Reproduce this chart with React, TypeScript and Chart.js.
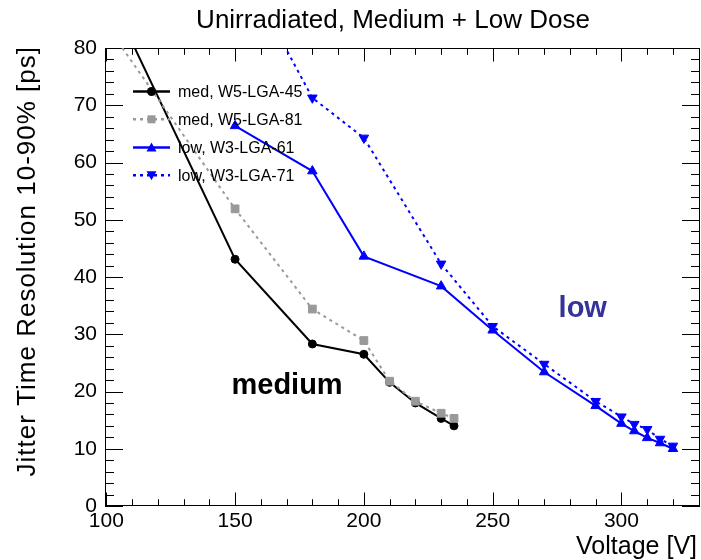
import React, { useEffect, useRef } from 'react';
import { Chart, registerables } from 'chart.js';

Chart.register(...registerables);

// ---- data ----
const TITLE = 'Unirradiated, Medium + Low Dose';
const X_TITLE = 'Voltage [V]';
const Y_TITLE = 'Jitter Time Resolution 10-90% [ps]';

const X_MIN = 99.5;
const X_MAX = 330.5;
const Y_MIN = 0;
const Y_MAX = 80;
const X_TICKS = [100, 150, 200, 250, 300];
const Y_TICKS = [0, 10, 20, 30, 40, 50, 60, 70, 80];
const X_MINOR_STEP = 10;
const Y_MINOR_STEP = 2;

const MED45_V = [110, 150, 180, 200, 210, 220, 230, 235];
const MED45_J = [81, 43.1, 28.3, 26.5, 21.6, 18.0, 15.3, 14.0];

const MED81_V = [100, 150, 180, 200, 210, 220, 230, 235];
const MED81_J = [84, 51.9, 34.4, 28.9, 21.8, 18.3, 16.2, 15.3];

const LOW61_V = [150, 180, 200, 230, 250, 270, 290, 300, 305, 310, 315, 320];
const LOW61_J = [66.4, 58.5, 43.6, 38.4, 30.7, 23.4, 17.5, 14.4, 13.1, 11.9, 11.0, 10.0];

const LOW71_V = [160, 180, 200, 230, 250, 270, 290, 300, 305, 310, 315, 320];
const LOW71_J = [88, 71.3, 64.3, 42.3, 31.4, 24.8, 18.3, 15.6, 14.3, 13.4, 11.7, 10.5];

const SERIES_LABELS = ['med, W5-LGA-45', 'med, W5-LGA-81', 'low, W3-LGA-61', 'low, W3-LGA-71'];

const NOTE_TEXT = ['medium', 'low'];
const NOTE_V = [148.6, 275.6];
const NOTE_J = [19.6, 33.0];

// ---- styles ----
const FONT = '"Liberation Sans", Arial, Helvetica, sans-serif';
const STYLES = [
  { color: '#000000', dash: [] as number[], marker: 'circle' },
  { color: '#999999', dash: [3, 4], marker: 'square' },
  { color: '#0000ff', dash: [] as number[], marker: 'up' },
  { color: '#0000ff', dash: [3, 4], marker: 'down' },
];
const NOTE_COLORS = ['#000000', '#333399'];

function drawMarker(ctx: CanvasRenderingContext2D, kind: string, x: number, y: number, color: string) {
  ctx.save();
  ctx.setLineDash([]);
  ctx.fillStyle = color;
  ctx.beginPath();
  if (kind === 'circle') {
    ctx.arc(x, y, 4.5, 0, Math.PI * 2);
  } else if (kind === 'square') {
    ctx.rect(x - 4, y - 4, 8, 8);
  } else if (kind === 'up') {
    ctx.moveTo(x, y - 5);
    ctx.lineTo(x + 5, y + 4);
    ctx.lineTo(x - 5, y + 4);
    ctx.closePath();
  } else {
    ctx.moveTo(x, y + 5);
    ctx.lineTo(x + 5, y - 4);
    ctx.lineTo(x - 5, y - 4);
    ctx.closePath();
  }
  ctx.fill();
  ctx.restore();
}

const rootPlugin = {
  id: 'rootStyle',
  beforeDatasetsDraw(chart: any) {
    const { ctx, chartArea } = chart;
    const xs = chart.scales.x;
    const ys = chart.scales.y;
    const { left, right, top, bottom } = chartArea;
    ctx.save();
    ctx.strokeStyle = '#000';
    ctx.lineWidth = 1;
    ctx.strokeRect(left + 0.5, top + 0.5, right - left - 1, bottom - top - 1);
    const xMajLen = 13.5, xMinLen = 6.8, yMajLen = 18, yMinLen = 9;
    ctx.beginPath();
    for (let v = Math.ceil(X_MIN / X_MINOR_STEP) * X_MINOR_STEP; v <= X_MAX; v += X_MINOR_STEP) {
      const px = Math.round(xs.getPixelForValue(v)) + 0.5;
      const len = X_TICKS.includes(v) ? xMajLen : xMinLen;
      ctx.moveTo(px, bottom);
      ctx.lineTo(px, bottom - len);
      ctx.moveTo(px, top);
      ctx.lineTo(px, top + len);
    }
    for (let v = Y_MIN; v <= Y_MAX; v += Y_MINOR_STEP) {
      const py = Math.round(ys.getPixelForValue(v)) + 0.5;
      const len = Y_TICKS.includes(v) ? yMajLen : yMinLen;
      ctx.moveTo(left, py);
      ctx.lineTo(left + len, py);
      ctx.moveTo(right, py);
      ctx.lineTo(right - len, py);
    }
    ctx.stroke();
    ctx.restore();
  },
  afterDatasetsDraw(chart: any) {
    const { ctx, chartArea } = chart;
    const xs = chart.scales.x;
    const ys = chart.scales.y;
    ctx.save();
    // title
    ctx.fillStyle = '#000';
    ctx.font = `26px ${FONT}`;
    ctx.textAlign = 'center';
    ctx.textBaseline = 'alphabetic';
    ctx.fillText(TITLE, 393, 28);
    // x title
    ctx.font = `25px ${FONT}`;
    ctx.textAlign = 'right';
    ctx.fillText(X_TITLE, chartArea.right - 3, 554);
    // y title
    ctx.save();
    ctx.translate(35, chartArea.top - 2);
    ctx.rotate(-Math.PI / 2);
    ctx.font = `26px ${FONT}`;
    (ctx as any).letterSpacing = '1px';
    ctx.textAlign = 'right';
    ctx.fillText(Y_TITLE, 0, 0);
    ctx.restore();
    // legend
    const rowY = [91.5, 119.3, 147.5, 175.3];
    ctx.font = `16px ${FONT}`;
    ctx.textBaseline = 'middle';
    ctx.textAlign = 'left';
    SERIES_LABELS.forEach((lab, i) => {
      const st = STYLES[i];
      const y = rowY[i];
      ctx.save();
      ctx.strokeStyle = st.color;
      ctx.lineWidth = 2.5;
      ctx.setLineDash(st.dash);
      ctx.beginPath();
      ctx.moveTo(133, y);
      ctx.lineTo(170, y);
      ctx.stroke();
      ctx.restore();
      drawMarker(ctx, st.marker, 151.5, y, st.color);
      ctx.fillStyle = '#000';
      ctx.fillText(lab, 178, y + 1);
    });
    // annotations
    ctx.font = `bold 29px ${FONT}`;
    ctx.textBaseline = 'alphabetic';
    NOTE_TEXT.forEach((t, i) => {
      ctx.fillStyle = NOTE_COLORS[i];
      ctx.fillText(t, xs.getPixelForValue(NOTE_V[i]), ys.getPixelForValue(NOTE_J[i]));
    });
    ctx.restore();
  },
};

function makeDataset(vs: number[], js: number[], i: number) {
  const st = STYLES[i];
  const ps =
    st.marker === 'circle' ? 'circle' : st.marker === 'square' ? 'rect' : 'triangle';
  const radius = st.marker === 'circle' ? 4 : st.marker === 'square' ? 5.5 : 5.5;
  return {
    label: SERIES_LABELS[i],
    data: vs.map((v, k) => ({ x: v, y: js[k] })),
    borderColor: st.color,
    backgroundColor: st.color,
    borderWidth: 2,
    borderDash: st.dash,
    pointStyle: ps,
    pointRotation: st.marker === 'down' ? 180 : 0,
    pointRadius: radius,
    pointBorderWidth: 1,
    pointBorderColor: st.color,
    pointBackgroundColor: st.color,
    tension: 0,
    clip: 0,
    order: 4 - i,
  };
}

export default function App() {
  const ref = useRef<HTMLCanvasElement | null>(null);
  useEffect(() => {
    if (!ref.current) return;
    const chart = new Chart(ref.current, {
      type: 'line',
      data: {
        datasets: [
          makeDataset(MED45_V, MED45_J, 0),
          makeDataset(MED81_V, MED81_J, 1),
          makeDataset(LOW61_V, LOW61_J, 2),
          makeDataset(LOW71_V, LOW71_J, 3),
        ] as any,
      },
      options: {
        animation: false,
        responsive: false,
        maintainAspectRatio: false,
        devicePixelRatio: 1,
        layout: { autoPadding: false, padding: { left: 0, top: 48, right: 1, bottom: 0 } },
        plugins: {
          legend: { display: false },
          title: { display: false },
          tooltip: { enabled: false },
        },
        scales: {
          x: {
            type: 'linear',
            min: X_MIN,
            max: X_MAX,
            grid: { display: false, drawTicks: false },
            border: { display: false },
            afterBuildTicks: (s: any) => {
              s.ticks = X_TICKS.map((v) => ({ value: v }));
            },
            afterFit: (s: any) => {
              s.height = 54;
            },
            ticks: {
              color: '#000',
              font: { family: FONT, size: 21 },
              padding: 3,
              maxRotation: 0,
              autoSkip: false,
              callback: (v: any) => String(v),
            },
          },
          y: {
            type: 'linear',
            min: Y_MIN,
            max: Y_MAX,
            grid: { display: false, drawTicks: false },
            border: { display: false },
            afterBuildTicks: (s: any) => {
              s.ticks = Y_TICKS.map((v) => ({ value: v }));
            },
            afterFit: (s: any) => {
              s.width = 105;
            },
            ticks: {
              color: '#000',
              font: { family: FONT, size: 21 },
              padding: 8,
              autoSkip: false,
              callback: (v: any) => String(v),
            },
          },
        },
      },
      plugins: [rootPlugin],
    } as any);
    return () => chart.destroy();
  }, []);
  return (
    <div style={{ position: 'absolute', left: 0, top: 0, width: 701, height: 560, background: '#fff' }}>
      <canvas ref={ref} width={701} height={560} style={{ width: 701, height: 560, display: 'block' }} />
    </div>
  );
}
